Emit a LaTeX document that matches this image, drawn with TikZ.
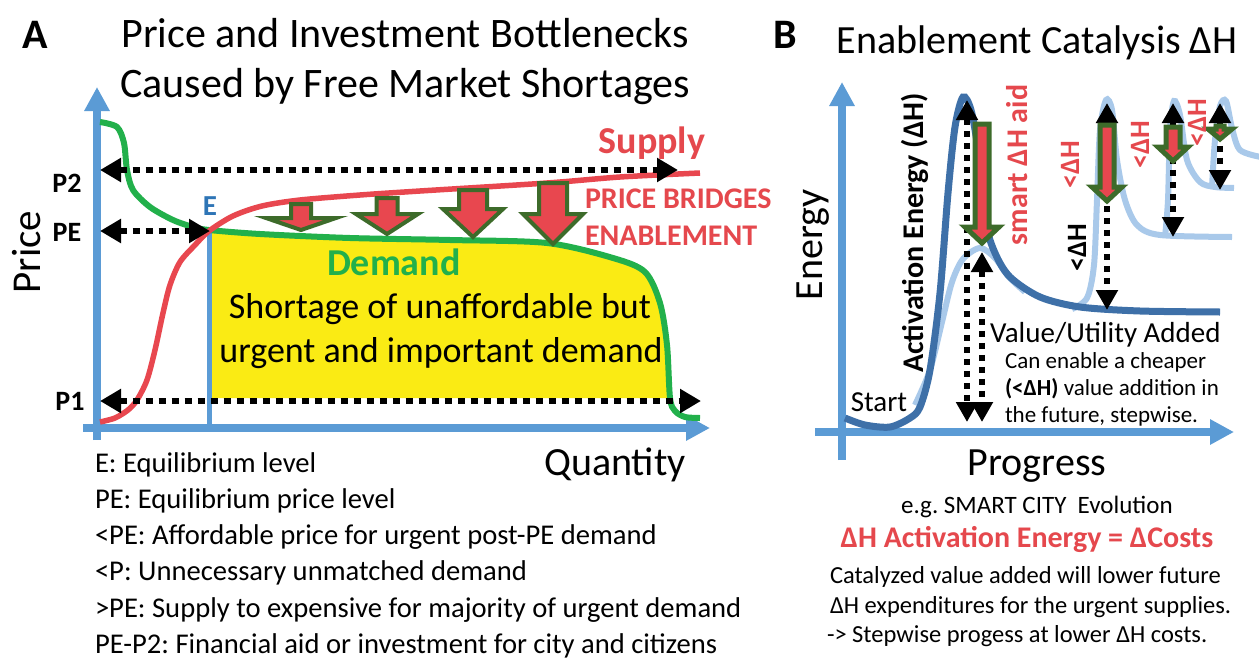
\documentclass[tikz,border=0pt]{standalone}
\usepackage{fontspec}
\setmainfont{Carlito}
\usetikzlibrary{arrows.meta}
\frenchspacing
\definecolor{axisblue}{HTML}{5B9BD5}
\definecolor{demgreen}{HTML}{22B04B}
\definecolor{supred}{HTML}{E8474F}
\definecolor{shortyellow}{HTML}{FAEB14}
\definecolor{olivegreen}{HTML}{3D6B2A}
\definecolor{txtred}{HTML}{E5484D}
\definecolor{eblue}{HTML}{2E75B6}
\definecolor{darkcurve}{HTML}{3E70A8}
\definecolor{lightcurve}{HTML}{A9C9EA}
\newcommand{\fsz}[1]{\fontsize{#1}{#1}\selectfont}
\newcommand{\blkarrow}[7]{\filldraw[blk,line width=#7] ({#1-#5},#2) -- ({#1+#5},#2) -- ({#1+#5},#3) -- ({#1+#6},#3) -- (#1,#4) -- ({#1-#6},#3) -- ({#1-#5},#3) -- cycle;}
\begin{document}
\begin{tikzpicture}[x=1pt,y=-1pt,
  axisline/.style={draw=axisblue,line width=8pt,-{Triangle[length=24pt,width=24pt]}},
  dotarr/.style={draw=black,line width=6.5pt,dash pattern=on 7pt off 6pt,{Triangle[length=21pt,width=23pt]}-{Triangle[length=21pt,width=23pt]}},
  dotarrB/.style={draw=black,line width=6pt,dash pattern=on 6pt off 6pt,{Triangle[length=20pt,width=21pt]}-{Triangle[length=20pt,width=21pt]}},
  blk/.style={fill=supred,draw=olivegreen,line join=miter},
  lbl/.style={inner sep=0pt,outer sep=0pt},
  demcurve/.style={draw=demgreen,line width=6pt},
  supcurve/.style={draw=supred,line width=5.5pt},
  dkcurve/.style={draw=darkcurve,line width=7pt},
  ltcurve/.style={draw=lightcurve,line width=6pt}]
\fill[white] (0,0) rectangle (1259,664);
\useasboundingbox (0,0) rectangle (1259,664);

% ---------------- Panel A ----------------
\node[lbl,anchor=base,font=\fsz{42}\bfseries] (labA) at (35,48) {A};
\node[lbl,anchor=base,font=\fsz{42}] (titA1) at (405,47) {Price and Investment Bottlenecks};
\node[lbl,anchor=base,font=\fsz{42}] (titA2) at (405,97) {Caused by Free Market Shortages};

% yellow shortage region
\fill[shortyellow] plot[smooth,tension=0.5] coordinates {(209,230) (260,234) (350,238) (450,240) (547,243) (613,258) (645,272) (660,303) (667,345) (670,398)} -- (209,398) -- cycle;

% axes
\coordinate (aYbot) at (97,440);
\coordinate (aYtop) at (97,87);
\coordinate (aXleft) at (83,428);
\coordinate (aXright) at (710,428);
\draw[axisline] (aYbot) -- (aYtop);
\draw[axisline] (aXleft) -- (aXright);
\coordinate (Ept) at (209,230);
\coordinate (Ebase) at (209,428);
\draw[draw=axisblue,line width=5pt] (Ebase) -- (Ept);

% demand curve
\draw[demcurve] plot[smooth,tension=0.5] coordinates {(100,122) (117,127) (124,143) (127,170) (133,190) (150,207) (173,220) (193,227) (209,230) (260,234) (350,238) (450,240) (547,243) (613,258) (645,272) (660,303) (667,345) (670,398) (675,411) (685,417) (700,418)};
% supply curve
\draw[supcurve] plot[smooth,tension=0.5] coordinates {(100,422) (115,418) (128,410) (137,400) (147,380) (155,350) (163,313) (170,285) (180,262) (195,245) (209,231) (233,216) (262,206) (300,200) (360,195) (420,191) (547,183) (620,177) (700,173)};

% block arrows
\blkarrow{301}{204}{218}{230}{10}{35}{4pt}
\blkarrow{387}{198}{214}{234}{10.5}{31}{4pt}
\blkarrow{473}{190}{209}{237}{14}{30}{4pt}
\blkarrow{553}{183}{214}{244}{14}{30}{4pt}

% dotted double arrows
\coordinate (p2L) at (100,170); \coordinate (p2R) at (678,170);
\coordinate (peL) at (100,231); \coordinate (peR) at (210,231);
\coordinate (p1L) at (100,401); \coordinate (p1R) at (701,401);
\draw[dotarr] (p2L) -- (p2R);
\draw[dotarr] (peL) -- (peR);
\draw[dotarr] (p1L) -- (p1R);

% labels A
\node[lbl,font=\fsz{28}\bfseries] (lP2) at (67,183) {P2};
\node[lbl,font=\fsz{28}\bfseries] (lPE) at (67,232) {PE};
\node[lbl,font=\fsz{28}\bfseries] (lP1) at (70,401) {P1};
\node[lbl,font=\fsz{29}\bfseries,text=eblue] (lE) at (210,206) {E};
\node[lbl,font=\fsz{41},rotate=90] (lPrice) at (27,252) {Price};
\node[lbl,anchor=base,font=\fsz{40}] (lQty) at (615,475) {Quantity};
\node[lbl,font=\fsz{38}\bfseries,text=txtred] (lSupply) at (652,143) {Supply};
\node[lbl,anchor=base west,font=\fsz{30}\bfseries,text=txtred] (lPB1) at (585,208) {PRICE BRIDGES};
\node[lbl,anchor=base west,font=\fsz{30}\bfseries,text=txtred] (lPB2) at (585,245) {ENABLEMENT};
\node[lbl,anchor=base west,font=\fsz{38}\bfseries,text=demgreen] (lDemand) at (327,275) {Demand};
\node[lbl,anchor=base,font=\fsz{36}] (lSh1) at (440,318) {Shortage of unaffordable but};
\node[lbl,anchor=base,font=\fsz{36}] (lSh2) at (441,362) {urgent and important demand};

\node[lbl,anchor=base west,font=\fsz{28.6}] (leg1) at (95,472) {E: Equilibrium level};
\node[lbl,anchor=base west,font=\fsz{28.6}] (leg2) at (95,508) {PE: Equilibrium price level};
\node[lbl,anchor=base west,font=\fsz{28.6}] (leg3) at (95,544.5) {<PE: Affordable price for urgent post-PE demand};
\node[lbl,anchor=base west,font=\fsz{28.6}] (leg4) at (95,580.5) {<P: Unnecessary unmatched demand};
\node[lbl,anchor=base west,font=\fsz{28.6}] (leg5) at (95,617) {>PE: Supply to expensive for majority of urgent demand};
\node[lbl,anchor=base west,font=\fsz{28.6}] (leg6) at (95,653) {PE-P2: Financial aid or investment for city and citizens};

% ---------------- Panel B ----------------
\node[lbl,anchor=base,font=\fsz{42}\bfseries] (labB) at (785,48) {B};
\node[lbl,anchor=base,font=\fsz{40}] (titB) at (1037,53) {Enablement Catalysis ΔH};

\coordinate (bYbot) at (842,460);
\coordinate (bYtop) at (842,82);
\coordinate (bXleft) at (815,432);
\coordinate (bXright) at (1234,432);
\draw[axisline] (bYbot) -- (bYtop);
\draw[axisline] (bXleft) -- (bXright);

% light curves
\draw[ltcurve] plot[smooth,tension=0.5] coordinates {(915,405) (930,370) (942,322) (952,282) (963,259) (980,248) (995,258) (1008,276) (1025,292)};
\draw[ltcurve] plot[smooth,tension=0.5] coordinates {(1072,309) (1087,298) (1094,265) (1097,200) (1100,130) (1106,100) (1112,110) (1117,160) (1125,200) (1137,225) (1160,235) (1232,237)};
\draw[ltcurve] plot[smooth,tension=0.5] coordinates {(1165,237) (1168,200) (1170,130) (1174,101) (1180,115) (1187,160) (1200,182) (1215,187) (1234,188)};
\draw[ltcurve] plot[smooth,tension=0.5] coordinates {(1212,187) (1215,140) (1220,106) (1226,101) (1232,128) (1240,150) (1261,157)};
% dark curve
\draw[dkcurve] plot[smooth,tension=0.5] coordinates {(845,418) (865,425) (890,427) (910,418) (920,407) (930,370) (940,293) (948,193) (955,127) (963,97) (971,110) (978,150) (985,220) (995,253) (1010,277) (1040,297) (1080,307) (1140,311) (1220,312)};

% dotted arrows B
\coordinate (d1t) at (967,100); \coordinate (d1b) at (967,422);
\coordinate (d2t) at (982,252); \coordinate (d2b) at (982,422);
\coordinate (d3t) at (1107,103); \coordinate (d3b) at (1107,310);
\coordinate (d4t) at (1173,103); \coordinate (d4b) at (1173,237);
\coordinate (d5t) at (1220,103); \coordinate (d5b) at (1220,190);
\draw[dotarrB] (d1t) -- (d1b);
\draw[dotarrB] (d2t) -- (d2b);
\draw[dotarrB] (d3t) -- (d3b);
\draw[dotarrB] (d4t) -- (d4b);
\draw[dotarrB] (d5t) -- (d5b);

% block arrows B
\blkarrow{982}{124}{227}{243}{7}{17}{5pt}
\blkarrow{1107}{125}{187}{201}{7}{15}{5pt}
\blkarrow{1173}{127}{147}{161}{7}{15}{5pt}
\blkarrow{1220}{126}{129}{139}{4}{12}{5pt}

% labels B
\node[lbl,font=\fsz{40},rotate=90] (lEnergy) at (813,245) {Energy};
\node[lbl,font=\fsz{30}\bfseries,rotate=90] (lAct) at (915,233) {Activation Energy (ΔH)};
\node[lbl,font=\fsz{30}\bfseries,rotate=90,text=txtred] (lSmart) at (1017,165) {smart ΔH aid};
\node[lbl,font=\fsz{29}] (lStart) at (879,402) {Start};
\node[lbl,anchor=base west,font=\fsz{29}] (lValue) at (990,342) {Value/Utility Added};
\node[lbl,anchor=base west,font=\fsz{23}] (lCan1) at (1005,368) {Can enable a cheaper};
\node[lbl,anchor=base west,font=\fsz{23}] (lCan2) at (1005,395) {\textbf{(<ΔH)} value addition in};
\node[lbl,anchor=base west,font=\fsz{23}] (lCan3) at (1005,422) {the future, stepwise.};
\node[lbl,font=\fsz{28}\bfseries,rotate=90] (lLtH) at (1077,248) {<ΔH};
\node[lbl,font=\fsz{28}\bfseries,rotate=90,text=txtred] (lLtR1) at (1070,165) {<ΔH};
\node[lbl,font=\fsz{28}\bfseries,rotate=90,text=txtred] (lLtR2) at (1140,145) {<ΔH};
\node[lbl,font=\fsz{28}\bfseries,rotate=90,text=txtred] (lLtR3) at (1197,123) {<ΔH};

\node[lbl,anchor=base,font=\fsz{40}] (lProg) at (1037,475) {Progress};
\node[lbl,anchor=base,font=\fsz{25}] (lEg) at (1037,513) {e.g. SMART CITY\ \ Evolution};
\node[lbl,anchor=base,font=\fsz{30}\bfseries,text=txtred] (lDH) at (1027,547) {ΔH Activation Energy = ΔCosts};
\node[lbl,anchor=base west,font=\fsz{24.5}] (lC1) at (830,583) {Catalyzed value added will lower future};
\node[lbl,anchor=base west,font=\fsz{24.5}] (lC2) at (830,613) {ΔH expenditures for the urgent supplies.};
\node[lbl,anchor=base west,font=\fsz{24.5}] (lC3) at (827,642) {-> Stepwise progess at lower ΔH costs.};
\end{tikzpicture}
\end{document}
